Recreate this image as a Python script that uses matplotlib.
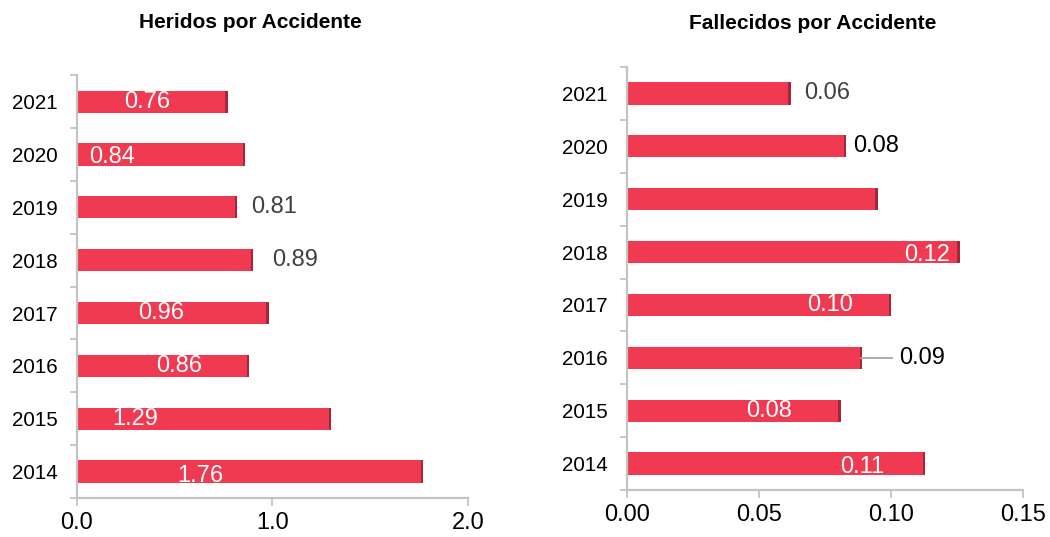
import matplotlib
matplotlib.use("Agg")
import matplotlib.pyplot as plt
from matplotlib.ticker import FixedLocator

plt.rcParams['font.family'] = ['Liberation Sans', 'DejaVu Sans']

years = ["2014", "2015", "2016", "2017", "2018", "2019", "2020", "2021"]

# Heridos por accidente (bar lengths as drawn) and printed labels
heridos = [1.77, 1.30, 0.88, 0.98, 0.90, 0.82, 0.86, 0.77]
heridos_lbl = ["1.76", "1.29", "0.86", "0.96", "0.89", "0.81", "0.84", "0.76"]

# Fallecidos por accidente (bar lengths as drawn) and printed labels
fallecidos = [0.113, 0.081, 0.089, 0.100, 0.126, 0.095, 0.083, 0.062]
fallecidos_lbl = ["0.11", "0.08", "0.09", "0.10", "0.12", "", "0.08", "0.06"]

BAR = "#ef3a51"
SIDE = "#a3293a"
GRID = "#c4c4c4"
WHITE = "white"
GRAY = "#404040"
BLACK = "#000000"

fig = plt.figure(figsize=(10.5, 5.37), dpi=100)

def style_axes(ax, xmax, xticks, fmt):
    ax.set_xlim(0, xmax)
    ax.set_ylim(-0.5, len(years) - 0.5)
    for s in ["top", "right"]:
        ax.spines[s].set_visible(False)
    for s in ["left", "bottom"]:
        ax.spines[s].set_color(GRID)
        ax.spines[s].set_linewidth(1.6)
    ax.set_yticks(range(len(years)))
    ax.set_yticklabels(years, fontsize=14.8)
    ax.yaxis.set_minor_locator(FixedLocator([i - 0.5 for i in range(len(years) + 1)]))
    ax.tick_params(axis="y", which="major", length=0, pad=14)
    ax.tick_params(axis="y", which="minor", length=5, color=GRID, width=1.3)
    ax.set_xticks(xticks)
    ax.set_xticklabels([fmt.format(t) for t in xticks], fontsize=17)
    ax.tick_params(axis="x", length=6, color=GRID, width=1.3, pad=4)

def draw_bars(ax, vals, depth):
    y = list(range(len(vals)))
    ax.barh(y, vals, height=0.42, color=BAR, edgecolor="none", zorder=2)
    ax.barh(y, [depth] * len(vals), left=[v - depth for v in vals], height=0.42,
            color=SIDE, edgecolor="none", zorder=3)

# Left panel
ax1 = fig.add_axes([0.0733, 0.0726, 0.3724, 0.7874])
draw_bars(ax1, heridos, 0.012)
style_axes(ax1, 2.0, [0.0, 1.0, 2.0], "{:.1f}")
fig.text(0.2386, 0.959, "Heridos por Accidente", ha="center", va="center",
         fontsize=15, fontweight="bold")
lbl_pos1 = [(0.63, -0.09, WHITE), (0.30, 0.0, WHITE), (0.52, 0.0, WHITE),
            (0.43, 0.0, WHITE), (1.115, 0.0, GRAY), (1.01, 0.0, GRAY),
            (0.18, -0.05, WHITE), (0.36, 0.0, WHITE)]
for i, (txt, (x, dy, c)) in enumerate(zip(heridos_lbl, lbl_pos1)):
    ax1.text(x, i + dy, txt, ha="center", va="center", fontsize=17, color=c, zorder=4)

# Right panel
ax2 = fig.add_axes([0.5971, 0.0875, 0.3771, 0.7877])
draw_bars(ax2, fallecidos, 0.0009)
style_axes(ax2, 0.15, [0.0, 0.05, 0.10, 0.15], "{:.2f}")
fig.text(0.7743, 0.957, "Fallecidos por Accidente", ha="center", va="center",
         fontsize=15, fontweight="bold")
lbl_pos2 = [(0.089, -0.07, WHITE), (0.0538, 0.0, WHITE), (0.1117, 0.0, BLACK),
            (0.077, 0.0, WHITE), (0.1137, -0.05, WHITE), (0.0, 0.0, WHITE),
            (0.0943, 0.0, BLACK), (0.076, 0.0, GRAY)]
for i, (txt, (x, dy, c)) in enumerate(zip(fallecidos_lbl, lbl_pos2)):
    if txt:
        ax2.text(x, i + dy, txt, ha="center", va="center", fontsize=17, color=c, zorder=4)
# leader line for 2016 label
i16 = years.index("2016")
ax2.plot([fallecidos[i16] - 0.0005, 0.1003], [i16, i16], color="#a6a6a6", lw=1.3, zorder=5)

fig.savefig("out.png", dpi=100)
